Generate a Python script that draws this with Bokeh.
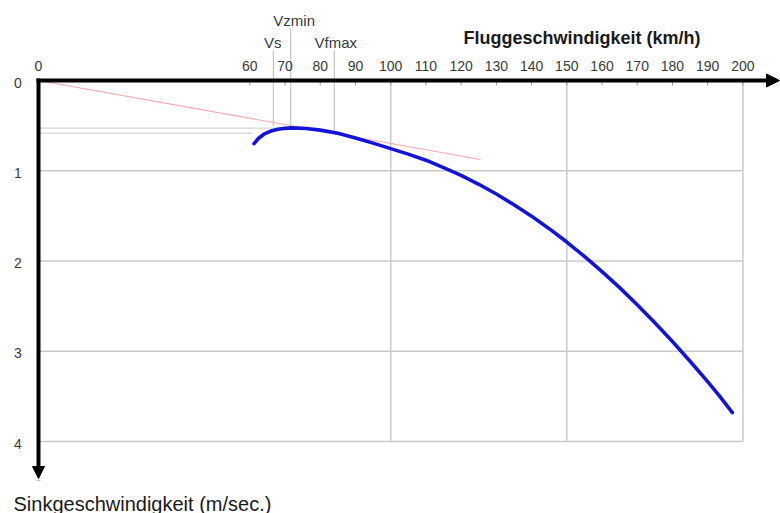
from bokeh.plotting import figure
from bokeh.models import Range1d, Arrow, NormalHead
from bokeh.core.properties import value
from bokeh.embed import file_html
from bokeh.resources import INLINE

# Glider polar: airspeed (km/h) vs. sink rate (m/s)
speed = [61.2, 62.5, 64, 66, 68, 70, 72, 76, 80, 85, 90, 95, 100,
         105, 110, 115, 120, 125, 130, 135, 140, 145, 150, 155, 160,
         165, 170, 175, 180, 185, 190, 193.5, 197]
sink = [0.70, 0.64, 0.595, 0.56, 0.54, 0.53, 0.525, 0.532, 0.55, 0.585, 0.637, 0.694, 0.755,
        0.816, 0.883, 0.965, 1.052, 1.150, 1.258, 1.376, 1.503, 1.642, 1.790, 1.948, 2.117,
        2.295, 2.485, 2.684, 2.892, 3.110, 3.337, 3.503, 3.68]

# Best-glide tangent from the origin
tangent_speed = [0, 125.5]
tangent_sink = [0, 0.875]

# Characteristic speeds
marker_names = ["Vs", "Vzmin", "Vfmax"]
marker_speed = [66.7, 71.6, 84.0]
marker_sink = [0.50, 0.52, 0.58]

# Reference sink levels drawn back to the vertical axis
ref_sink = [0.528, 0.584]
ref_speed_end = [71.6, 61.0]

x_ticks = [0, 60, 70, 80, 90, 100, 110, 120, 130, 140, 150, 160, 170, 180, 190, 200]
y_ticks = [0, 1, 2, 3, 4]
grid_x = [100, 150, 200]
grid_y = [1, 2, 3, 4]

W, H = 780, 513
PX_X = 3.522   # pixels per km/h
PX_Y = 90.25   # pixels per m/s
X0, Y0 = 38, 80  # pixel position of the origin

p = figure(width=W, height=H, output_backend="svg", toolbar_location=None,
           x_range=Range1d(-X0 / PX_X, (W - X0) / PX_X),
           y_range=Range1d((H - Y0) / PX_Y, -Y0 / PX_Y),
           x_axis_type=None, y_axis_type=None, min_border=0)
p.outline_line_color = None
p.xgrid.visible = False
p.ygrid.visible = False
p.background_fill_color = "white"
p.border_fill_color = "white"

def dy(px):
    return px / PX_Y

font = value("Liberation Sans")
grid_col = "#c9c9c9"

# grid
for gx in grid_x:
    p.segment(x0=gx, y0=0, x1=gx, y1=max(grid_y), line_color=grid_col, line_width=1.5)
for gy in grid_y:
    p.segment(x0=0, y0=gy, x1=max(grid_x), y1=gy, line_color=grid_col, line_width=1.5)

# reference sink lines
p.segment(x0=[0] * len(ref_sink), y0=ref_sink, x1=ref_speed_end, y1=ref_sink,
          line_color="#d6d6d6", line_width=1.2)

# characteristic speed markers
label_py = {"Vs": 42, "Vzmin": 20, "Vfmax": 42}
top_py = {"Vs": 50, "Vzmin": 28, "Vfmax": 50}
label_dx = {"Vs": -0.2, "Vzmin": 1.0, "Vfmax": 0.4}
p.segment(x0=marker_speed, y0=[dy(top_py[n] - Y0) for n in marker_names],
          x1=marker_speed, y1=marker_sink, line_color="#c4c4c4", line_width=1.2)
p.text(x=[s + label_dx[n] for s, n in zip(marker_speed, marker_names)],
       y=[dy(label_py[n] - Y0) for n in marker_names], text=marker_names,
       text_font=font, text_font_size="15px", text_align="center",
       text_baseline="middle", text_color="#3a3a3a")

# tangent
p.line(tangent_speed, tangent_sink, line_color="#f4aab0", line_width=1.2)

# polar curve
p.line(speed, sink, line_color="#1414d8", line_width=3.6, line_join="round", line_cap="round")

# small tick marks under the speed axis
tx = [t for t in x_ticks if t > 0]
p.segment(x0=tx, y0=[0] * len(tx), x1=tx, y1=[dy(5)] * len(tx),
          line_color="#9a9a9a", line_width=1)

# axes with arrowheads
p.add_layout(Arrow(x_start=0, y_start=0, x_end=(W - X0 - 1) / PX_X, y_end=0,
                   line_width=4, line_color="black", line_cap="square",
                   end=NormalHead(size=13, fill_color="black", line_color="black")))
p.add_layout(Arrow(x_start=0, y_start=0, x_end=0, y_end=dy(478 - Y0),
                   line_width=4, line_color="black", line_cap="square",
                   end=NormalHead(size=12, fill_color="black", line_color="black")))

# tick labels
p.text(x=x_ticks, y=[dy(65 - Y0)] * len(x_ticks), text=[str(t) for t in x_ticks],
       text_font=font, text_font_size="14px", text_align="center",
       text_baseline="middle", text_color="#3a3a3a")
p.text(x=[-20.5 / PX_X] * len(y_ticks), y=[t + dy(2) for t in y_ticks],
       text=[str(t) for t in y_ticks], text_font=font, text_font_size="14px",
       text_align="center", text_baseline="middle", text_color="#3a3a3a")

# axis titles
p.text(x=[(463 - X0) / PX_X], y=[dy(37 - Y0)], text=["Fluggeschwindigkeit (km/h)"],
       text_font=font, text_font_size="18px", text_font_style="bold",
       text_align="left", text_baseline="middle", text_color="#1a1a1a")
p.text(x=[(13 - X0) / PX_X], y=[dy(503 - Y0)], text=["Sinkgeschwindigkeit (m/sec.)"],
       text_font=font, text_font_size="20px", text_align="left",
       text_baseline="middle", text_color="#1a1a1a")

open("out.html", "w").write(file_html(p, INLINE))
